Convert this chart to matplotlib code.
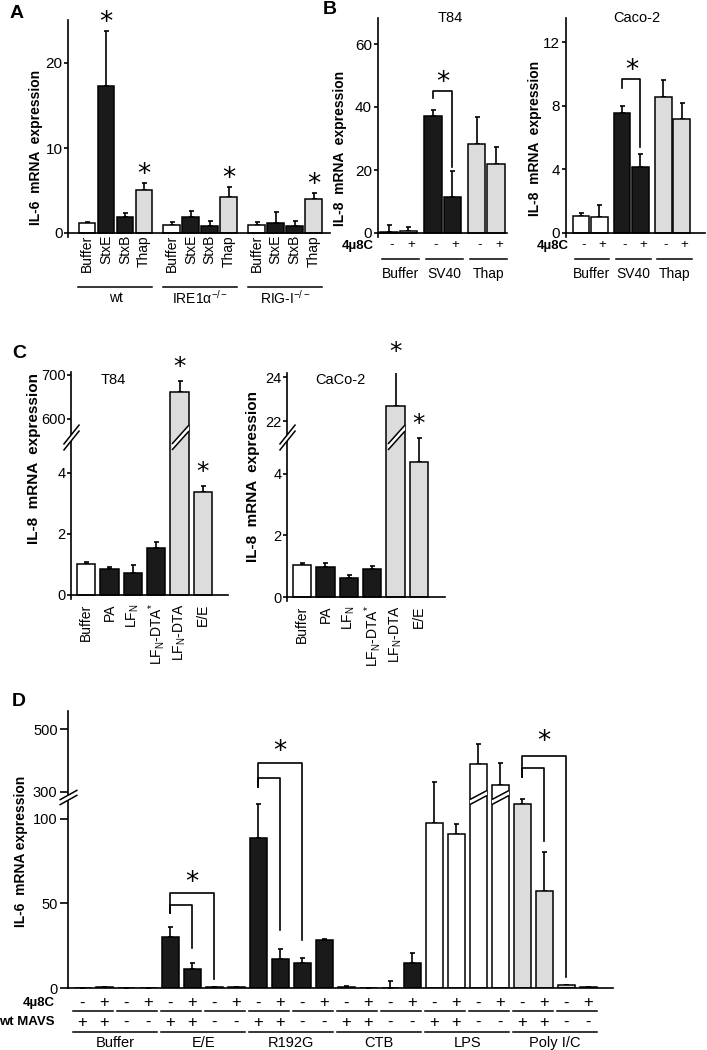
import numpy as np
import matplotlib
matplotlib.use("Agg")
import matplotlib.pyplot as plt
from matplotlib.transforms import blended_transform_factory as blend

plt.rcParams.update({
    "font.family": ["Liberation Sans", "DejaVu Sans"],
    "mathtext.fontset": "custom",
    "mathtext.rm": "Liberation Sans",
    "mathtext.it": "Liberation Sans:italic",
    "mathtext.bf": "Liberation Sans:bold",
    "axes.linewidth": 1.2,
})

W, H = 707, 1050
BLK, GRY, WHT = "#1a1a1a", "#dcdcdc", "white"

# ---------------- data ----------------
# A: IL-6, HeLa-like lines
A_treat = ["Buffer", "StxE", "StxB", "Thap"]
A_groups = ["wt", r"IRE1α$^{\mathregular{-/-}}$", r"RIG-I$^{\mathregular{-/-}}$"]
A_mean = [1.2, 17.3, 1.85, 5.1, 0.9, 1.85, 0.85, 4.27, 0.9, 1.14, 0.85, 3.96]
A_err = [0.15, 6.5, 0.45, 0.8, 0.43, 0.75, 0.6, 1.1, 0.43, 1.36, 0.6, 0.78]
A_color = [WHT, BLK, BLK, GRY] * 3
A_star = [1, 3, 7, 11]

# B: IL-8, SV40 vs 4u8C
B_groups = ["Buffer", "SV40", "Thap"]
B_drug = ["-", "+"] * 3
B_color = [WHT, WHT, BLK, BLK, GRY, GRY]
B_t84_mean = [0.3, 0.6, 37.1, 11.3, 28.2, 21.9]
B_t84_err = [2.2, 1.3, 1.9, 8.3, 8.7, 5.3]
B_t84_bracket = [42.8, 45.2, 21.1]      # left end, top, right end
B_caco_mean = [1.07, 0.99, 7.53, 4.13, 8.53, 7.15]
B_caco_err = [0.21, 0.77, 0.46, 0.84, 1.09, 1.01]
B_caco_bracket = [9.1, 9.69, 5.43]

# C: IL-8, anthrax toxin constructs
C_labels = ["Buffer", "PA", r"LF$_\mathregular{N}$",
            r"LF$_\mathregular{N}$-DTA$^\mathregular{*}$",
            r"LF$_\mathregular{N}$-DTA", "E/E"]
C_color = [WHT, BLK, BLK, BLK, GRY, GRY]
C_t84_mean = [1.03, 0.85, 0.72, 1.54, 661, 3.38]
C_t84_err = [0.05, 0.08, 0.26, 0.2, 25, 0.19]
C_caco_mean = [1.04, 0.97, 0.61, 0.91, 22.7, 4.39]
C_caco_err = [0.07, 0.14, 0.11, 0.09, 1.8, 0.78]
C_star = [4, 5]

# D: IL-6, wt MAVS vs none, +/- 4u8C
D_groups = ["Buffer", "E/E", "R192G", "CTB", "LPS", "Poly I/C"]
D_drug = ["-", "+", "-", "+"] * 6
D_mavs = ["+", "+", "-", "-"] * 6
D_mean = [0, 0.5, 0, 0, 30.4, 11.5, 0.4, 0.5, 88.9, 16.9, 14.5, 28.4,
          0.8, 0, 0, 14.9, 97.8, 90.9, 387, 320, 108.7, 57.1, 1.5, 0.4]
D_err = [0, 0, 0, 0, 5.9, 3.5, 0, 0, 20, 5.9, 3.4, 0.6,
         0.4, 0, 4, 5.9, 234, 5.9, 65, 72, 55, 23.3, 0.4, 0]
D_color = [WHT] * 4 + [BLK] * 12 + [WHT] * 4 + [GRY] * 4
# brackets: (left bar, right bar, left-end, top, right-end)
D_brackets = [(4, 6, 44.2, 56.1, 5.5), (4, 5, 44.2, 49.2, 23.4),
              (8, 10, 314, 391, 28.4), (8, 9, 314, 344, 34.3),
              (20, 22, 346, 414, 6.5), (20, 21, 346, 375, 86.9)]
D_star = [(5, 62), (9, 426), (21, 459)]

fig = plt.figure(figsize=(W / 100, H / 100), dpi=100)
fig.patch.set_facecolor("white")


def fy(ypx):
    return 1 - ypx / H


def add_ax(l, t, r, b, lab=11, tl=3):
    ax = fig.add_axes([l / W, 1 - b / H, (r - l) / W, (b - t) / H])
    for s in ("top", "right"):
        ax.spines[s].set_visible(False)
    ax.spines["bottom"].set_position(("data", 0))
    ax.tick_params(axis="y", direction="out", length=tl, width=1.2, pad=1.5,
                   labelsize=lab)
    ax.tick_params(axis="x", length=0)
    ax.set_facecolor("none")
    return ax


def broken(ax, v, p):
    v, p = np.asarray(v, float), np.asarray(p, float)
    ax.set_yscale("function", functions=(lambda y: np.interp(y, v, p),
                                         lambda y: np.interp(y, p, v)))


def bars(ax, x, mean, err, colors, width):
    ax.errorbar(x, mean, yerr=[np.zeros(len(err)), err], fmt="none", ecolor="k",
                elinewidth=1.2, capsize=1.8, capthick=1.2, zorder=1)
    ax.bar(x, mean, width, color=colors, edgecolor="k", linewidth=1.1, zorder=2)


def star(ax, x, y, gap, size=19):
    ax.annotate("*", (x, y), xytext=(0, gap), textcoords="offset pixels",
                ha="center", va="center", fontsize=size, family="DejaVu Sans",
                annotation_clip=False)


def brk(ax, x, y, w, h, gap, trans):
    hw, hh, g = w / 2, h / 2, gap / 2
    m = max(hw, hh + g)
    ms = 2 * m * 0.72
    band = [(-hw, -hh - g), (hw, hh - g), (hw, hh + g), (-hw, -hh + g)]
    ax.plot(x, y, marker=band, ms=ms, mfc="white", mew=0, ls="none",
            transform=trans, clip_on=False, zorder=5)
    for s in (1, -1):
        ax.plot(x, y, marker=[(-hw, -hh + s * g), (hw, hh + s * g)], ms=ms,
                mfc="none", mec="k", mew=1.1, ls="none", transform=trans,
                clip_on=False, zorder=6)


def bracket(ax, x0, x1, yl, yt, yr):
    ax.plot([x0, x0, x1, x1], [yl, yt, yt, yr], color="k", lw=1.2,
            clip_on=False, zorder=3)


def ylab(x, y, s, size=10):
    fig.text(x / W, fy(y), s, rotation=90, ha="center", va="center",
             fontsize=size, fontweight="bold")


# ---------------- panel A ----------------
ax = add_ax(68, 20, 330, 237)
ppu = 8.5
xa = np.array([i + 0.47 * (i // 4) for i in range(12)])
bars(ax, xa, A_mean, A_err, A_color, 0.88)
ax.set_xlim(-1.0, 12.8)
ax.set_ylim(-4 / ppu, 213 / ppu)
ax.set_yticks([0, 10, 20])
ax.tick_params(axis="y", pad=1)
ax.set_xticks(xa, A_treat * 3, rotation=90, fontsize=10)
ax.tick_params(axis="x", pad=1.5)
for i in A_star:
    star(ax, xa[i], A_mean[i] + A_err[i], 8)
xt = blend(ax.transData, fig.transFigure)
for g, name in enumerate(A_groups):
    ax.plot([xa[4 * g] - 0.45, xa[4 * g + 3] + 0.45], [fy(287)] * 2, color="k",
            lw=1.1, transform=xt, clip_on=False)
    ax.text((xa[4 * g] + xa[4 * g + 3]) / 2, fy(298), name, transform=xt,
            ha="center", va="center", fontsize=10)
ylab(36, 147, "IL-6  mRNA  expression")
fig.text(17 / W, fy(13), "A", fontsize=14, fontweight="bold", ha="center", va="center")


# ---------------- panel B ----------------
def panel_b(l, r, ppu, step, first, mean, err, brk_y, ticks, title, tx, lx, ly, lab_x):
    ax = add_ax(l, 18, r, 237)
    xb = np.array([i + 0.25 * (i // 2) for i in range(6)])
    bars(ax, xb, mean, err, B_color, 0.9)
    ax.set_xlim(-first, (r - l) / step - first)
    ax.set_ylim(-4 / ppu, 215 / ppu)
    ax.set_yticks(ticks)
    ax.set_xticks([])
    bracket(ax, xb[2], xb[3], *brk_y)
    star(ax, (xb[2] + xb[3]) / 2, brk_y[1], 8)
    xt = blend(ax.transData, fig.transFigure)
    for i, s in enumerate(B_drug):
        ax.text(xb[i] + 0.15, fy(245), s, transform=xt, ha="center", va="center",
                fontsize=9.5)
    for g, name in enumerate(B_groups):
        ax.plot([xb[2 * g] - 0.35, xb[2 * g + 1] + 0.55], [fy(259)] * 2, color="k",
                lw=1.1, transform=xt, clip_on=False)
        ax.text((xb[2 * g] + xb[2 * g + 1]) / 2 + 0.1, fy(274), name, transform=xt,
                ha="center", va="center", fontsize=10)
    fig.text(lab_x / W, fy(246), "4µ8C", ha="right", va="center", fontsize=9.5,
             fontweight="bold")
    fig.text(tx / W, fy(18), title, ha="center", va="center", fontsize=10.5)
    ylab(lx, ly, "IL-8  mRNA  expression")


panel_b(378, 507, 3.15, 19.5, 0.56, B_t84_mean, B_t84_err, B_t84_bracket,
        [0, 20, 40, 60], "T84", 450, 340, 148, 374)
panel_b(566, 705, 15.9, 18.3, 0.82, B_caco_mean, B_caco_err, B_caco_bracket,
        [0, 4, 8, 12], "Caco-2", 637, 535, 138, 569)
fig.text(330 / W, fy(10), "B", fontsize=14, fontweight="bold", ha="center", va="center")


# ---------------- panel C ----------------
def panel_c(l, r, base, top, mean, err, v, p, ticks, brk_v, title, tx, lx, ly):
    ax = add_ax(l, top, r, base + 4, lab=10.5)
    broken(ax, v, p)
    xc = np.arange(6)
    bars(ax, xc, mean, err, C_color, 0.78)
    ax.set_xlim(-0.64, (r - l) / 23.4 - 0.64)
    g = lambda y: np.interp(y, p, v)
    ax.set_ylim(g(-4), g(base - top))
    ax.set_yticks(ticks)
    ax.minorticks_off()
    ax.tick_params(axis="y", pad=1)
    ax.set_xticks(xc, C_labels, rotation=90, fontsize=10)
    ax.tick_params(axis="x", pad=6)
    for i in C_star:
        star(ax, xc[i], mean[i] + err[i], 14, size=18)
    brk(ax, 0, brk_v, 16, 20, 6, ax.get_yaxis_transform())
    brk(ax, xc[4], brk_v, 17, 19, 6, ax.transData)
    fig.text(tx / W, fy(380), title, ha="center", va="center", fontsize=10.5)
    ylab(lx, ly, "IL-8  mRNA  expression", size=11)


panel_c(71, 228, 595, 372, C_t84_mean, C_t84_err,
        [-1e4, 0, 4.85, 560, 1e5], [-3.05e5, 0, 148, 158.4, 158.4 + (1e5 - 560) * 0.44],
        [0, 2, 4, 600, 700], 560, "T84", 113, 34, 459)
panel_c(287, 445, 597, 373, C_caco_mean, C_caco_err,
        [-1e4, 0, 5.3, 21.6, 1e5], [-3.075e5, 0, 163, 167.2, 167.2 + (1e5 - 21.6) * 22],
        [0, 2, 4, 22, 24], 5.2, "CaCo-2", 340, 253, 477)
fig.text(19 / W, fy(353), "C", fontsize=14, fontweight="bold", ha="center", va="center")

# ---------------- panel D ----------------
ax = add_ax(68, 711, 613, 988, lab=10.5, tl=6)
dv = [-1e4, 0, 110, 300, 1e5]
dp = [-1.68e4, 0, 184.8, 195, 195 + (1e5 - 300) * 0.31]
broken(ax, dv, dp)
xd = np.arange(24)
bars(ax, xd, D_mean, D_err, D_color, 0.77)
ax.set_xlim(-0.64, 545 / 22 - 0.64)
ax.set_ylim(0, np.interp(275, dp, dv))
ax.set_yticks([0, 50, 100, 300, 500])
ax.minorticks_off()
ax.set_xticks([])
for b0, b1, yl, yt, yr in D_brackets:
    bracket(ax, xd[b0], xd[b1], yl, yt, yr)
for i, y in D_star:
    ax.text(xd[i], y, "*", ha="center", va="center", fontsize=19,
            family="DejaVu Sans")
brk(ax, 0, 200, 18, 10, 5, ax.get_yaxis_transform())
for i in (18, 19):
    brk(ax, xd[i], 200, 17, 9, 5, ax.transData)
xt = blend(ax.transData, fig.transFigure)
for i in range(24):
    ax.text(xd[i], fy(1003), D_drug[i], transform=xt, ha="center", va="center",
            fontsize=12)
    ax.text(xd[i], fy(1022), D_mavs[i], transform=xt, ha="center", va="center",
            fontsize=12)
for j in range(12):
    ax.plot([xd[2 * j] - 0.42, xd[2 * j + 1] + 0.42], [fy(1011)] * 2, color="k",
            lw=1.1, transform=xt, clip_on=False)
for g, name in enumerate(D_groups):
    ax.plot([xd[4 * g] - 0.42, xd[4 * g + 3] + 0.42], [fy(1032)] * 2, color="k",
            lw=1.1, transform=xt, clip_on=False)
    ax.text((xd[4 * g] + xd[4 * g + 3]) / 2, fy(1043), name, transform=xt,
            ha="center", va="center", fontsize=10.5)
fig.text(55 / W, fy(1003), "4µ8C", ha="right", va="center", fontsize=9.5,
         fontweight="bold")
fig.text(55 / W, fy(1022), "wt MAVS", ha="right", va="center", fontsize=9.5,
         fontweight="bold")
ylab(21, 851, "IL-6  mRNA expression")
fig.text(19 / W, fy(702), "D", fontsize=14, fontweight="bold", ha="center", va="center")

fig.savefig("out.png", dpi=100)
